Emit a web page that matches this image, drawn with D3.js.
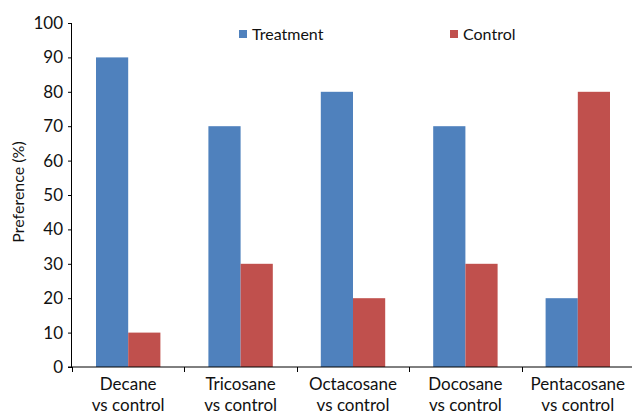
<!DOCTYPE html>
<html><head><meta charset="utf-8">
<script src="https://cdn.jsdelivr.net/npm/d3@7"></script>
<style>body{margin:0;background:#fff}svg{display:block}text{font-family:"Lato","Open Sans",sans-serif;fill:#111}</style>
</head><body><svg id="c" width="632" height="415"></svg>
<script>
const categories = [["Decane","vs control"],["Tricosane","vs control"],["Octacosane","vs control"],["Docosane","vs control"],["Pentacosane","vs control"]];
const seriesNames = ["Treatment","Control"];
const treatment = [90,70,80,70,20];
const control = [10,30,20,30,80];
const yTicks = [0,10,20,30,40,50,60,70,80,90,100];
const colors = ["#4F81BD","#C0504D"];

const svg = d3.select("#c");
const x0 = 72, x1 = 634, yB = 367, yT = 23;
const keys = categories.map((d,i)=>i);
const x = d3.scaleBand().domain(keys).range([x0,x1]).paddingInner(0).paddingOuter(0);
const y = d3.scaleLinear().domain([0,100]).range([yB,yT]);
const inner = d3.scaleBand().domain([0,1]).range([24,x.bandwidth()-24]).padding(0);
const series = [treatment, control];

const g = svg.append("g");
keys.forEach(i=>{
  series.forEach((s,j)=>{
    g.append("rect").attr("x",x(i)+inner(j)).attr("y",y(s[i]))
      .attr("width",inner.bandwidth()).attr("height",y(0)-y(s[i]))
      .attr("fill",colors[j]);
  });
});

// y axis
const ya = svg.append("g").attr("transform",`translate(${x0},0)`)
  .call(d3.axisLeft(y).tickValues(yTicks).tickSize(4).tickPadding(5));
ya.select(".domain").attr("stroke","#000").attr("d",`M-0.5,${yT}V${yB}`);
ya.selectAll(".tick line").attr("stroke","#000");
ya.selectAll("text").style("font-size","17px").attr("fill","#111");

// x axis
const xa = svg.append("g").attr("transform",`translate(0,${yB})`);
xa.append("line").attr("x1",x0-4).attr("x2",632).attr("y1",0).attr("y2",0).attr("stroke","#000");
keys.concat([keys.length]).forEach(i=>{
  const xx = i<keys.length ? x(i) : x1;
  if (xx<=632) xa.append("line").attr("x1",Math.round(xx)+0.5).attr("x2",Math.round(xx)+0.5).attr("y1",0).attr("y2",5).attr("stroke","#000");
});
keys.forEach(i=>{
  const t = xa.append("text").attr("text-anchor","middle").attr("x",x(i)+x.bandwidth()/2).style("font-size","17px");
  t.append("tspan").attr("x",x(i)+x.bandwidth()/2).attr("y",23).text(categories[i][0]);
  t.append("tspan").attr("x",x(i)+x.bandwidth()/2).attr("y",44).text(categories[i][1]);
});

// y title
svg.append("text").attr("transform","translate(24,192) rotate(-90)").attr("text-anchor","middle")
  .style("font-size","16px").text("Preference (%)");

// legend
const legX = [239, 450];
seriesNames.forEach((n,j)=>{
  svg.append("rect").attr("x",legX[j]).attr("y",30).attr("width",8).attr("height",8).attr("fill",colors[j]);
  svg.append("text").attr("x",legX[j]+13).attr("y",40).style("font-size","16px").text(n);
});
</script></body></html>
